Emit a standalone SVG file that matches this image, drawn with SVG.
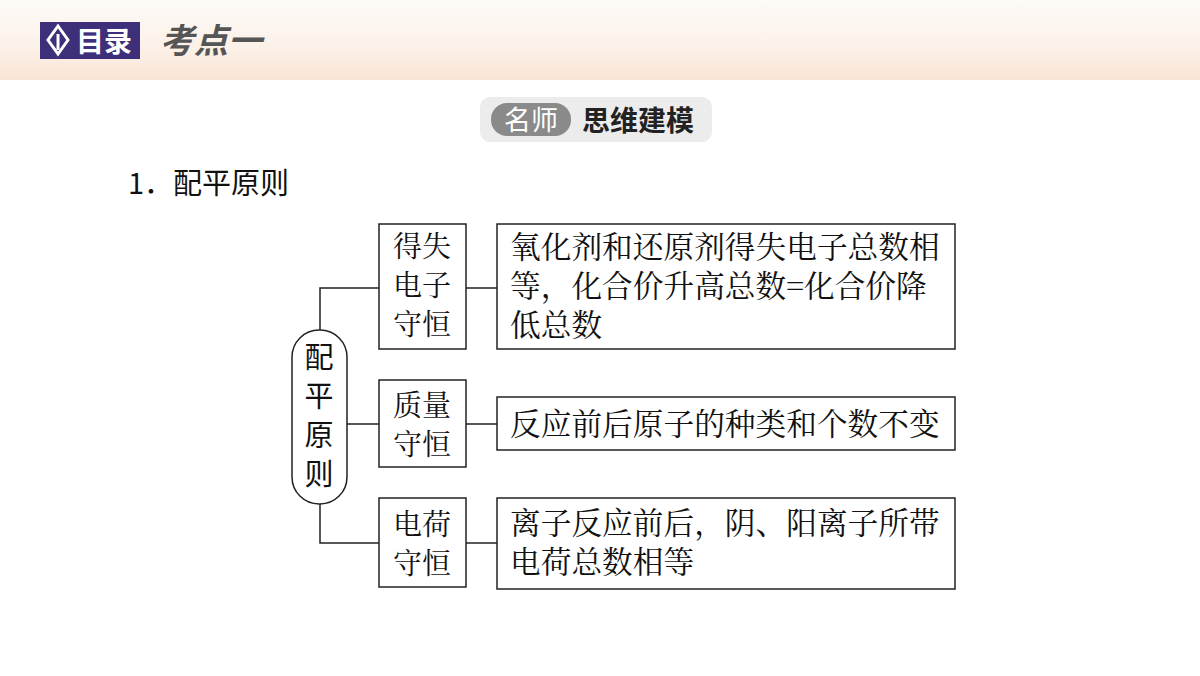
<svg xmlns="http://www.w3.org/2000/svg" width="1200" height="676" viewBox="0 0 1200 676">
<defs>
<linearGradient id="hg" x1="0" y1="0" x2="0" y2="1"><stop offset="0" stop-color="#fdfbf8"/><stop offset="0.6" stop-color="#fbf1e8"/><stop offset="1" stop-color="#f8e4d4"/></linearGradient>
<style>
.t{font-family:"Noto Sans CJK SC",sans-serif;font-size:29px;fill:#111}
.s{font-family:"Noto Serif CJK SC","Noto Sans CJK SC",serif;font-size:29px;fill:#111}
.d{font-family:"Noto Serif CJK SC","Noto Sans CJK SC",serif;font-size:30.7px;fill:#111}
.b{fill:#fff;stroke:#222;stroke-width:1.5}
.l{stroke:#222;stroke-width:1.5;fill:none}
</style>
</defs>
<rect width="1200" height="676" fill="#fff"/>
<rect width="1200" height="80" fill="url(#hg)"/>
<g id="header">
<rect x="40" y="22" width="100" height="37" fill="#3d2f7a"/>
<path d="M58 26 L68 40 L58 54 L48 40 Z" fill="none" stroke="#fff" stroke-width="3"/>
<line x1="58" y1="34" x2="58" y2="50" stroke="#fff" stroke-width="3"/>
<text x="76" y="52" font-family="Noto Sans CJK SC,sans-serif" font-size="28" font-weight="bold" fill="#fff">目录</text>
<text x="160" y="53" font-family="Noto Sans CJK SC,sans-serif" font-size="34" font-weight="bold" fill="#555" font-style="italic">考点一</text>
</g>
<g id="badge">
<rect x="480" y="97" width="232" height="45" rx="10" fill="#ececec"/>
<rect x="491" y="103" width="80" height="33" rx="16" fill="#8a8a8a"/>
<text x="531" y="130" text-anchor="middle" font-family="Noto Sans CJK SC,sans-serif" font-size="27" fill="#fff">名师</text>
<text x="582" y="131" font-family="Noto Sans CJK SC,sans-serif" font-size="28" font-weight="bold" fill="#222">思维建模</text>
</g>
<text x="128" y="194" class="t" font-size="30">1．配平原则</text>
<g id="connectors">
<path class="l" d="M320 334 V288 H379 M320 500 V543 H379 M347 424 H379"/>
<line class="l" x1="466" y1="288" x2="497" y2="288"/>
<line class="l" x1="466" y1="424" x2="497" y2="424"/>
<line class="l" x1="466" y1="543" x2="497" y2="543"/>
</g>
<g id="root"><rect class="b" x="292" y="330" width="55" height="174" rx="27"/>
<text class="t" x="319" y="368" text-anchor="middle">配</text><text class="t" x="319" y="407" text-anchor="middle">平</text><text class="t" x="319" y="446" text-anchor="middle">原</text><text class="t" x="319" y="485" text-anchor="middle">则</text></g>
<g id="n1"><rect class="b" x="379" y="224" width="87" height="125"/>
<text class="s" x="422" y="257" text-anchor="middle">得失</text><text class="s" x="422" y="296" text-anchor="middle">电子</text><text class="s" x="422" y="335" text-anchor="middle">守恒</text></g>
<g id="n2"><rect class="b" x="379" y="380" width="87" height="87"/>
<text class="s" x="422" y="416" text-anchor="middle">质量</text><text class="s" x="422" y="455" text-anchor="middle">守恒</text></g>
<g id="n3"><rect class="b" x="379" y="498" width="87" height="89"/>
<text class="s" x="422" y="535" text-anchor="middle">电荷</text><text class="s" x="422" y="574" text-anchor="middle">守恒</text></g>
<g id="d1"><rect class="b" x="497" y="224" width="458" height="125"/>
<text class="d" x="510" y="258">氧化剂和还原剂得失电子总数相</text><text class="d" x="510" y="297">等，化合价升高总数=化合价降</text><text class="d" x="510" y="336">低总数</text></g>
<g id="d2"><rect class="b" x="497" y="397" width="458" height="53"/>
<text class="d" x="510" y="435">反应前后原子的种类和个数不变</text></g>
<g id="d3"><rect class="b" x="497" y="498" width="458" height="91"/>
<text class="d" x="510" y="534">离子反应前后，阴、阳离子所带</text><text class="d" x="510" y="573">电荷总数相等</text></g>
</svg>
